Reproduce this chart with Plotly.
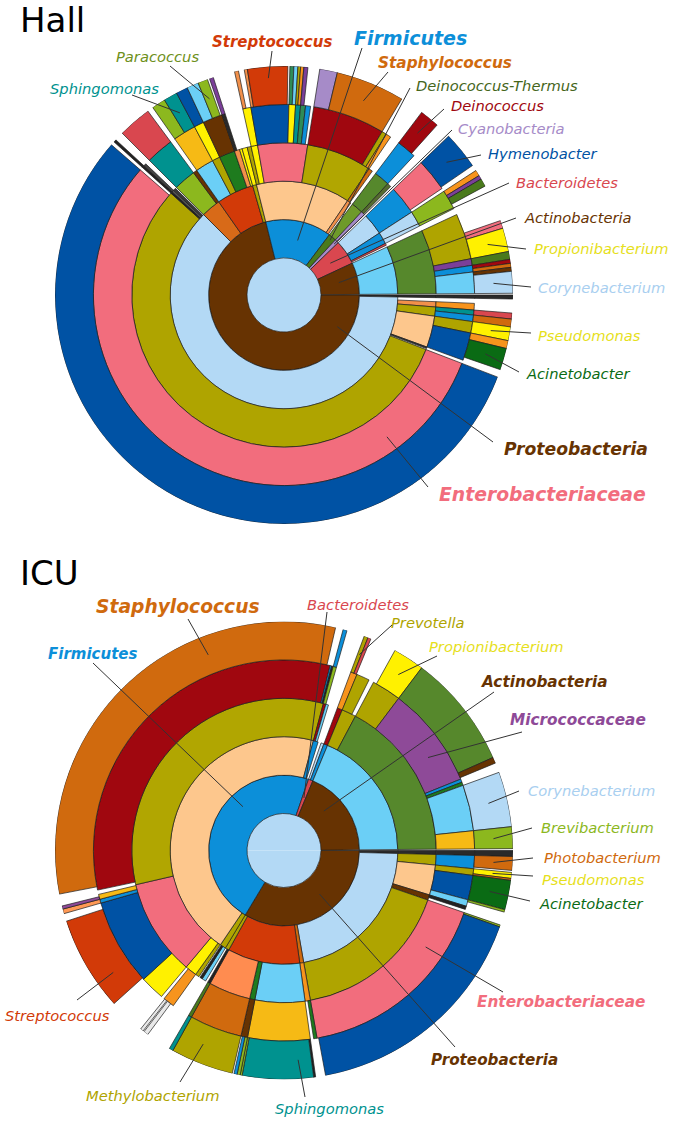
import math
from collections import defaultdict
import plotly.graph_objects as go

W, H = 675, 1121

# ------------------------------------------------------------------
# DATA  (relative abundance, % of classified reads)
# (name, parent, percent)
# ------------------------------------------------------------------
HALL_PHYLA = [
    ("Proteobacteria", "root", 71.11),
    ("Firmicutes", "root", 14.17),
    ("Deinococcus-Thermus", "root", 1.67),
    ("Cyanobacteria", "root", 0.83),
    ("Bacteroidetes", "root", 5.28),
    ("Actinobacteria", "root", 6.81),
]
HALL_PROTEO = [
    ("P.minor", "Proteobacteria", 0.28),
    ("Gammaproteobacteria", "Proteobacteria", 62.22),
    ("Betaproteobacteria", "Proteobacteria", 2.78),
    ("Alphaproteobacteria", "Proteobacteria", 5.28),
    ("Deltaproteobacteria", "Proteobacteria", 0.56),
    ("P.minor order", "P.minor", 0.28),
    ("P.minor family", "P.minor order", 0.28),
    ("P.minor genus", "P.minor family", 0.28),
    ("unclassified Gammaproteobacteria", "Gammaproteobacteria", 0.42),
    ("Xanthomonadales", "Gammaproteobacteria", 0.56),
    ("Alteromonadales", "Gammaproteobacteria", 0.97),
    ("Pseudomonadales", "Gammaproteobacteria", 3.33),
    ("Vibrionales", "Gammaproteobacteria", 0.17),
    ("unclassified Gammaproteobacteria 2", "Gammaproteobacteria", 0.11),
    ("Enterobacteriales", "Gammaproteobacteria", 55.83),
    ("Legionellales", "Gammaproteobacteria", 0.19),
    ("Oceanospirillales", "Gammaproteobacteria", 0.22),
    ("Chromatiales", "Gammaproteobacteria", 0.28),
    ("Xanthomonadaceae", "Xanthomonadales", 0.56),
    ("Shewanellaceae", "Alteromonadales", 0.42),
    ("Shewanella", "Shewanellaceae", 0.42),
    ("Alteromonadaceae", "Alteromonadales", 0.56),
    ("Alteromonas", "Alteromonadaceae", 0.56),
    ("Pseudomonadaceae", "Pseudomonadales", 0.97),
    ("Pseudomonas", "Pseudomonadaceae", 0.97),
    ("Moraxellaceae", "Pseudomonadales", 2.36),
    ("Enhydrobacter", "Moraxellaceae", 0.56),
    ("Acinetobacter", "Moraxellaceae", 1.53),
    ("Enterobacteriaceae", "Enterobacteriales", 55.56),
    ("Enterobacter", "Enterobacteriaceae", 55.56),
    ("Legionellaceae", "Legionellales", 0.19),
    ("Legionella", "Legionellaceae", 0.19),
    ("Halomonadaceae", "Oceanospirillales", 0.22),
    ("Burkholderiales", "Betaproteobacteria", 2.36),
    ("Comamonadaceae", "Burkholderiales", 2.36),
    ("Delftia", "Comamonadaceae", 2.36),
    ("Neisseriales", "Betaproteobacteria", 0.42),
    ("Sphingomonadales", "Alphaproteobacteria", 1.94),
    ("Sphingomonadaceae", "Sphingomonadales", 1.94),
    ("Novosphingobium", "Sphingomonadaceae", 0.97),
    ("Sphingomonas", "Sphingomonadaceae", 0.97),
    ("Rhizobiales", "Alphaproteobacteria", 0.83),
    ("Methylobacteriaceae", "Rhizobiales", 0.83),
    ("Methylobacterium", "Methylobacteriaceae", 0.83),
    ("Rhodobacterales", "Alphaproteobacteria", 1.67),
    ("Rhodobacteraceae", "Rhodobacterales", 1.67),
    ("Rhodobacter", "Rhodobacteraceae", 0.83),
    ("Paracoccus", "Rhodobacteraceae", 0.69),
    ("Caulobacterales", "Alphaproteobacteria", 0.56),
    ("Caulobacteraceae", "Caulobacterales", 0.28),
    ("Brevundimonas", "Caulobacteraceae", 0.28),
    ("Rickettsiales", "Alphaproteobacteria", 0.28),
    ("Myxococcales", "Deltaproteobacteria", 0.56),
]
HALL_OTHER = [
    ("Bacilli", "Firmicutes", 13.33),
    ("Clostridia", "Firmicutes", 0.56),
    ("Bacilli (unclassified)", "Bacilli", 0.42),
    ("Gemellales", "Bacilli", 0.69),
    ("Gemellaceae", "Gemellales", 0.69),
    ("Gemella", "Gemellaceae", 0.28),
    ("Lactobacillales", "Bacilli", 5.28),
    ("Bacillales", "Bacilli", 6.94),
    ("Streptococcaceae", "Lactobacillales", 3.19),
    ("Lactococcus", "Streptococcaceae", 0.22),
    ("Streptococcus", "Streptococcaceae", 2.83),
    ("Enterococcaceae", "Lactobacillales", 0.56),
    ("Enterococcus", "Enterococcaceae", 0.28),
    ("Tetragenococcus", "Enterococcaceae", 0.28),
    ("Leuconostocaceae", "Lactobacillales", 0.42),
    ("Leuconostoc", "Leuconostocaceae", 0.19),
    ("Weissella", "Leuconostocaceae", 0.22),
    ("Carnobacteriaceae", "Lactobacillales", 0.42),
    ("Carnobacterium", "Carnobacteriaceae", 0.28),
    ("Lactobacillaceae", "Lactobacillales", 0.42),
    ("Staphylococcaceae", "Bacillales", 6.11),
    ("Macrococcus", "Staphylococcaceae", 1.25),
    ("Staphylococcus", "Staphylococcaceae", 4.86),
    ("Planococcaceae", "Bacillales", 0.42),
    ("Bacillaceae", "Bacillales", 0.42),
    ("Clostridiales", "Clostridia", 0.42),
    ("Deinococci", "Deinococcus-Thermus", 1.67),
    ("Deinococcales", "Deinococci", 1.67),
    ("Deinococcaceae", "Deinococcales", 1.67),
    ("Deinococcus", "Deinococcaceae", 1.39),
    ("Chloroplast", "Cyanobacteria", 0.56),
    ("Streptophyta", "Chloroplast", 0.42),
    ("Cytophagia", "Bacteroidetes", 3.06),
    ("Cytophagales", "Cytophagia", 3.06),
    ("Cytophagaceae", "Cytophagales", 2.78),
    ("Hymenobacter", "Cytophagaceae", 2.64),
    ("Sphingobacteriia", "Bacteroidetes", 1.67),
    ("Sphingobacteriales", "Sphingobacteriia", 1.67),
    ("Sphingobacteriaceae", "Sphingobacteriales", 1.67),
    ("Pedobacter", "Sphingobacteriaceae", 0.42),
    ("Sphingobacterium", "Sphingobacteriaceae", 0.28),
    ("Mucilaginibacter", "Sphingobacteriaceae", 0.56),
    ("Flavobacteriia", "Bacteroidetes", 0.28),
    ("Actinobacteria (class)", "Actinobacteria", 6.81),
    ("Actinomycetales", "Actinobacteria (class)", 6.81),
    ("Propionibacteriaceae", "Actinomycetales", 3.89),
    ("unclassified Propionibacteriaceae", "Propionibacteriaceae", 1.67),
    ("Friedmanniella", "Propionibacteriaceae", 0.56),
    ("Propionibacterium", "Propionibacteriaceae", 1.67),
    ("Dermabacteraceae", "Actinomycetales", 0.56),
    ("Brachybacterium", "Dermabacteraceae", 0.56),
    ("Micrococcaceae", "Actinomycetales", 0.56),
    ("Kocuria", "Micrococcaceae", 0.28),
    ("Micrococcus", "Micrococcaceae", 0.28),
    ("Corynebacteriaceae", "Actinomycetales", 1.81),
    ("Corynebacteriaceae (other)", "Corynebacteriaceae", 0.28),
    ("Corynebacterium", "Corynebacteriaceae", 1.53),
]

ICU_PHYLA = [
    ("Proteobacteria", "root", 33.61),
    ("Firmicutes", "root", 46.67),
    ("Bacteroidetes", "root", 0.97),
    ("Actinobacteria", "root", 18.61),
]
ICU_PROTEO = [
    ("P.minor", "Proteobacteria", 0.42),
    ("Gammaproteobacteria", "Proteobacteria", 21.81),
    ("Betaproteobacteria", "Proteobacteria", 0.56),
    ("Alphaproteobacteria", "Proteobacteria", 10.28),
    ("Deltaproteobacteria", "Proteobacteria", 0.56),
    ("P.minor order", "P.minor", 0.42),
    ("P.minor family", "P.minor order", 0.42),
    ("P.minor genus", "P.minor family", 0.42),
    ("Vibrionales", "Gammaproteobacteria", 1.11),
    ("Pseudomonadales", "Gammaproteobacteria", 3.19),
    ("Xanthomonadales", "Gammaproteobacteria", 0.56),
    ("Enterobacteriales", "Gammaproteobacteria", 16.94),
    ("Vibrionaceae", "Vibrionales", 1.11),
    ("Photobacterium", "Vibrionaceae", 0.97),
    ("Pseudomonadaceae", "Pseudomonadales", 0.56),
    ("Pseudomonas", "Pseudomonadaceae", 0.42),
    ("Pseudomonadaceae (other)", "Pseudomonadaceae", 0.14),
    ("Moraxellaceae", "Pseudomonadales", 2.08),
    ("Acinetobacter", "Moraxellaceae", 2.08),
    ("Pseudomonadales (other)", "Pseudomonadales", 0.56),
    ("Pseudomonadales (other) g", "Pseudomonadales (other)", 0.17),
    ("Xanthomonadaceae", "Xanthomonadales", 0.28),
    ("Enterobacteriaceae", "Enterobacteriales", 16.94),
    ("Enterobacteriaceae (other)", "Enterobacteriaceae", 0.14),
    ("Enterobacter", "Enterobacteriaceae", 16.67),
    ("Burkholderiales", "Betaproteobacteria", 0.56),
    ("Comamonadaceae", "Burkholderiales", 0.28),
    ("Sphingomonadales", "Alphaproteobacteria", 5.28),
    ("Sphingomonadaceae", "Sphingomonadales", 5.28),
    ("Sphingomonadaceae (other)", "Sphingomonadaceae", 0.14),
    ("Sphingomonas", "Sphingomonadaceae", 5.0),
    ("Novosphingobium", "Sphingomonadaceae", 0.14),
    ("Rhodobacterales", "Alphaproteobacteria", 0.56),
    ("Rhodobacteraceae", "Rhodobacterales", 0.56),
    ("Paracoccus", "Rhodobacteraceae", 0.22),
    ("Rhodobacter", "Rhodobacteraceae", 0.22),
    ("Rhizobiales", "Alphaproteobacteria", 4.44),
    ("Methylobacteriaceae", "Rhizobiales", 4.44),
    ("Methylobacterium", "Methylobacteriaceae", 4.44),
    ("Myxococcales", "Deltaproteobacteria", 0.28),
    ("Myxococcaceae", "Myxococcales", 0.28),
    ("Myxococcaceae g", "Myxococcaceae", 0.28),
]
ICU_OTHER = [
    ("Erysipelotrichia", "Firmicutes", 0.83),
    ("Bacilli", "Firmicutes", 44.72),
    ("Clostridia", "Firmicutes", 0.69),
    ("Erysipelotrichales", "Erysipelotrichia", 0.42),
    ("Erysipelotrichia (other)", "Erysipelotrichia", 0.28),
    ("Bacilli (unclassified)", "Bacilli", 0.42),
    ("Gemellales", "Bacilli", 1.25),
    ("Lactobacillales", "Bacilli", 10.28),
    ("Bacillales", "Bacilli", 32.78),
    ("Gemellaceae", "Gemellales", 0.97),
    ("unclassified Gemellaceae", "Gemellaceae", 0.28),
    ("Gemella", "Gemellaceae", 0.33),
    ("unclassified Gemellaceae 2", "Gemellaceae", 0.08),
    ("Gemellaceae (other)", "Gemellaceae", 0.22),
    ("Aerococcaceae", "Lactobacillales", 2.08),
    ("Streptococcaceae", "Lactobacillales", 7.36),
    ("unclassified Streptococcaceae", "Streptococcaceae", 0.14),
    ("Streptococcus", "Streptococcaceae", 6.67),
    ("Carnobacteriaceae", "Lactobacillales", 0.33),
    ("Carnobacterium", "Carnobacteriaceae", 0.33),
    ("Enterococcaceae", "Lactobacillales", 0.42),
    ("Enterococcus", "Enterococcaceae", 0.22),
    ("unclassified Bacillales", "Bacillales", 0.28),
    ("Staphylococcaceae", "Bacillales", 32.22),
    ("unclassified Staphylococcaceae", "Staphylococcaceae", 0.28),
    ("Staphylococcus", "Staphylococcaceae", 31.67),
    ("Bacillaceae", "Bacillales", 0.14),
    ("Planococcaceae", "Bacillales", 0.14),
    ("Clostridiales", "Clostridia", 0.28),
    ("Clostridiaceae", "Clostridiales", 0.28),
    ("Clostridium", "Clostridiaceae", 0.28),
    ("Clostridia (other)", "Clostridia", 0.28),
    ("Flavobacteriia", "Bacteroidetes", 0.42),
    ("Bacteroidia", "Bacteroidetes", 0.56),
    ("Bacteroidales", "Bacteroidia", 0.56),
    ("Prevotellaceae", "Bacteroidales", 0.56),
    ("Prevotella", "Prevotellaceae", 0.28),
    ("Prevotellaceae (other)", "Prevotellaceae", 0.22),
    ("Actinobacteria (class)", "Actinobacteria", 18.61),
    ("Actinobacteria (unclassified order)", "Actinobacteria (class)", 1.53),
    ("Actinobacteria (unclassified family)", "Actinobacteria (unclassified order)", 1.11),
    ("Actinomycetales", "Actinobacteria (class)", 17.08),
    ("Propionibacteriaceae", "Actinomycetales", 2.5),
    ("unclassified Propionibacteriaceae", "Propionibacteriaceae", 0.28),
    ("Propionibacterium", "Propionibacteriaceae", 2.22),
    ("Micrococcaceae", "Actinomycetales", 8.61),
    ("Kocuria", "Micrococcaceae", 8.06),
    ("Micrococcus", "Micrococcaceae", 0.42),
    ("Dermabacteraceae", "Actinomycetales", 0.28),
    ("Nocardiaceae", "Actinomycetales", 0.28),
    ("Corynebacteriaceae", "Actinomycetales", 3.89),
    ("Corynebacterium", "Corynebacteriaceae", 3.89),
    ("Brevibacteriaceae", "Actinomycetales", 1.53),
    ("Brevibacterium", "Brevibacteriaceae", 1.53),
]

# ------------------------------------------------------------------
# STYLE
# ------------------------------------------------------------------
BROWN = "#673302"; LBLUE = "#B3D9F5"; OLIVE = "#AFA400"; PINK = "#F26D7D"
DBLUE = "#0052A4"; FBLUE = "#0C8FD9"; PEACH = "#FDC78D"; DRED = "#A0070F"
ORANGE = "#D06A0E"; RED = "#D23A08"; CYAN = "#6BCFF6"; GREEN = "#56882C"
YELLOW = "#FFF100"; DGREEN = "#0A6B14"; TEAL = "#00928F"; LIME = "#8CB81E"
GOLD = "#F6BA15"; LORANGE = "#F7941D"; SALMON = "#F2904A"; BRED = "#D9474F"
PURPLE = "#7B3F99"; LAV = "#A68BC8"; DARK = "#2A2A2A"; MGREEN = "#1E7B1E"

HALL_COLORS = {
    "root": LBLUE, "Proteobacteria": BROWN, "Firmicutes": FBLUE,
    "Deinococcus-Thermus": "#4A7A1C", "Cyanobacteria": LAV, "Bacteroidetes": BRED,
    "Actinobacteria": BROWN,
    "P.minor": DARK, "P.minor order": DARK, "P.minor family": DARK, "P.minor genus": DARK,
    "Gammaproteobacteria": LBLUE, "Betaproteobacteria": "#D86A18",
    "Alphaproteobacteria": RED, "Deltaproteobacteria": OLIVE,
    "Xanthomonadales": SALMON, "Alteromonadales": OLIVE, "Pseudomonadales": PEACH,
    "Vibrionales": "#333333", "Enterobacteriales": OLIVE, "Legionellales": "#222222",
    "Oceanospirillales": "#555555", "Chromatiales": "#3A3A3A",
    "Xanthomonadaceae": LORANGE, "Shewanellaceae": TEAL, "Shewanella": BRED,
    "Alteromonadaceae": FBLUE, "Alteromonas": ORANGE, "Pseudomonadaceae": OLIVE,
    "Pseudomonas": YELLOW, "Moraxellaceae": DBLUE, "Enhydrobacter": LORANGE,
    "Acinetobacter": DGREEN, "Enterobacteriaceae": PINK, "Enterobacter": DBLUE,
    "Legionellaceae": "#222222", "Legionella": "#222222", "Halomonadaceae": "#444444",
    "Burkholderiales": LIME, "Comamonadaceae": TEAL, "Delftia": BRED, "Neisseriales": BROWN,
    "Sphingomonadales": CYAN, "Sphingomonadaceae": GOLD, "Novosphingobium": LIME,
    "Sphingomonas": TEAL, "Rhizobiales": OLIVE, "Methylobacteriaceae": YELLOW,
    "Methylobacterium": DBLUE, "Rhodobacterales": MGREEN, "Rhodobacteraceae": BROWN,
    "Rhodobacter": CYAN, "Paracoccus": LIME, "Caulobacterales": SALMON,
    "Caulobacteraceae": DARK, "Brevundimonas": PURPLE, "Rickettsiales": YELLOW,
    "Myxococcales": YELLOW,
    "Bacilli": PEACH, "Clostridia": SALMON, "Bacilli (unclassified)": OLIVE,
    "Gemellales": YELLOW, "Gemellaceae": YELLOW, "Gemella": SALMON,
    "Lactobacillales": PINK, "Bacillales": "#B1A601",
    "Streptococcaceae": DBLUE, "Lactococcus": SALMON, "Streptococcus": RED,
    "Enterococcaceae": YELLOW, "Enterococcus": "#2E8B57", "Tetragenococcus": CYAN,
    "Leuconostocaceae": TEAL, "Leuconostoc": OLIVE, "Weissella": LORANGE,
    "Carnobacteriaceae": "#2E8B57", "Carnobacterium": PURPLE, "Lactobacillaceae": FBLUE,
    "Staphylococcaceae": DRED, "Macrococcus": LAV, "Staphylococcus": ORANGE,
    "Planococcaceae": OLIVE, "Bacillaceae": LORANGE, "Clostridiales": ORANGE,
    "Deinococci": "#6E9A2A", "Deinococcales": GREEN, "Deinococcaceae": FBLUE,
    "Deinococcus": DRED, "Chloroplast": LAV, "Streptophyta": "#556B2F",
    "Cytophagia": LBLUE, "Cytophagales": FBLUE, "Cytophagaceae": PINK, "Hymenobacter": DBLUE,
    "Sphingobacteriia": FBLUE, "Sphingobacteriales": LBLUE, "Sphingobacteriaceae": LIME,
    "Pedobacter": LORANGE, "Sphingobacterium": PURPLE, "Mucilaginibacter": "#4A7A1C",
    "Flavobacteriia": BRED,
    "Actinobacteria (class)": CYAN, "Actinomycetales": GREEN, "Propionibacteriaceae": OLIVE,
    "Friedmanniella": PINK, "Propionibacterium": YELLOW, "Dermabacteraceae": PURPLE,
    "Brachybacterium": "#4A7A1C", "Micrococcaceae": FBLUE, "Kocuria": DRED,
    "Micrococcus": ORANGE, "Corynebacteriaceae": CYAN, "Corynebacteriaceae (other)": BROWN,
    "Corynebacterium": LBLUE,
}

ICU_COLORS = {
    "root": LBLUE, "Proteobacteria": BROWN, "Firmicutes": FBLUE, "Bacteroidetes": BRED,
    "Actinobacteria": BROWN,
    "P.minor": DARK, "P.minor order": DARK, "P.minor family": DARK, "P.minor genus": DARK,
    "Gammaproteobacteria": LBLUE, "Betaproteobacteria": ORANGE, "Alphaproteobacteria": RED,
    "Deltaproteobacteria": OLIVE,
    "Vibrionales": OLIVE, "Vibrionaceae": FBLUE, "Photobacterium": ORANGE,
    "Pseudomonadales": PEACH, "Pseudomonadaceae": OLIVE, "Pseudomonas": YELLOW,
    "Pseudomonadaceae (other)": ORANGE, "Moraxellaceae": DBLUE, "Acinetobacter": DGREEN,
    "Pseudomonadales (other)": CYAN, "Pseudomonadales (other) g": LIME,
    "Xanthomonadales": BROWN, "Xanthomonadaceae": "#222222",
    "Enterobacteriales": OLIVE, "Enterobacteriaceae": PINK,
    "Enterobacteriaceae (other)": LIME, "Enterobacter": DBLUE,
    "Burkholderiales": LORANGE, "Comamonadaceae": MGREEN,
    "Sphingomonadales": CYAN, "Sphingomonadaceae": GOLD, "Sphingomonadaceae (other)": "#222222",
    "Sphingomonas": TEAL, "Novosphingobium": LIME,
    "Rhodobacterales": MGREEN, "Rhodobacteraceae": BROWN, "Paracoccus": LIME, "Rhodobacter": FBLUE,
    "Rhizobiales": "#FF8C50", "Methylobacteriaceae": ORANGE, "Methylobacterium": OLIVE,
    "Myxococcales": "#222222", "Myxococcaceae": "#4A7A1C", "Myxococcaceae g": TEAL,
    "Erysipelotrichia": OLIVE, "Erysipelotrichales": CYAN, "Erysipelotrichia (other)": "#222222",
    "Bacilli": PEACH, "Bacilli (unclassified)": OLIVE, "Gemellales": YELLOW,
    "Gemellaceae": LORANGE, "Gemella": "#E8E8E8", "Gemellaceae (other)": "#E8E8E8",
    "Lactobacillales": PINK, "Bacillales": "#B1A601",
    "Aerococcaceae": YELLOW, "Streptococcaceae": DBLUE, "Streptococcus": RED,
    "Carnobacteriaceae": FBLUE, "Carnobacterium": "#FF9955",
    "Enterococcaceae": GOLD, "Enterococcus": "#8E4A98",
    "Staphylococcaceae": DRED, "Staphylococcus": ORANGE,
    "Bacillaceae": FBLUE, "Planococcaceae": "#222222",
    "Clostridia": FBLUE, "Clostridiales": DRED, "Clostridiaceae": LIME, "Clostridium": FBLUE,
    "Clostridia (other)": CYAN,
    "Flavobacteriia": LBLUE, "Bacteroidia": FBLUE, "Bacteroidales": DRED,
    "Prevotellaceae": LORANGE, "Prevotella": OLIVE, "Prevotellaceae (other)": BRED,
    "Actinobacteria (class)": CYAN, "Actinobacteria (unclassified order)": OLIVE,
    "Actinobacteria (unclassified family)": OLIVE,
    "Actinomycetales": GREEN, "Propionibacteriaceae": OLIVE, "Propionibacterium": YELLOW,
    "Micrococcaceae": "#8E4A98", "Kocuria": GREEN, "Micrococcus": BROWN,
    "Dermabacteraceae": FBLUE, "Nocardiaceae": MGREEN,
    "Corynebacteriaceae": CYAN, "Corynebacterium": LBLUE,
    "Brevibacteriaceae": GOLD, "Brevibacterium": LIME,
}

# geometry (pixels, page coordinates)
PAGE = 0                   # body margin removed below (post_script)
R0 = 37.0                  # root disc radius
RMAX = 229.0               # outer radius
NRING = 5
T = (RMAX - R0) / NRING    # ring thickness
CX = 284.0
HALL_CY = 295.0
ICU_CY = 850.5
FONT = "DejaVu Sans"
SMALL = 14.7


def px2paper(x, y):
    return (x - PAGE) / W, 1 - (y - PAGE) / H


# labels: text, node, fraction along arc, fraction across ring, text x/y,
#         xanchor, leader start x/y, size, bold, text colour (None -> node colour)
HALL_LABELS = [
    ("Firmicutes", "Firmicutes", 0.55, 0.5, 410, 38, "center", 362, 48, 19, True, None),
    ("Streptococcus", "Streptococcus", 0.5, 0.7, 272, 42, "center", 272, 51, 15, True, None),
    ("Staphylococcus", "Staphylococcus", 0.5, 0.5, 445, 63, "center", 388, 72, 15.3, True, None),
    ("Deinococcus-Thermus", "Deinococcus-Thermus", 0.5, 0.9, 414, 86, "left", 410, 88, SMALL, False, "#46661C"),
    ("Deinococcus", "Deinococcus", 0.5, 0.5, 449, 106, "left", 444, 109, SMALL, False, None),
    ("Cyanobacteria", "Cyanobacteria", 0.5, 0.9, 456, 128, "left", 452, 130, SMALL, False, None),
    ("Hymenobacter", "Hymenobacter", 0.5, 0.5, 486, 153, "left", 481, 155, SMALL, False, None),
    ("Bacteroidetes", "Bacteroidetes", 0.5, 0.5, 514, 182, "left", 509, 183, SMALL, False, None),
    ("Actinobacteria", "Actinobacteria", 0.5, 0.5, 522, 218, "left", 516, 218, SMALL, False, None),
    ("Propionibacterium", "Propionibacterium", 0.5, 0.5, 532, 249, "left", 526, 249, SMALL, False, "#E6E01C"),
    ("Corynebacterium", "Corynebacterium", 0.5, 0.5, 536, 287, "left", 531, 287, SMALL, False, "#A9CFF0"),
    ("Pseudomonas", "Pseudomonas", 0.5, 0.5, 536, 335, "left", 531, 333, SMALL, False, "#E6E01C"),
    ("Acinetobacter", "Acinetobacter", 0.5, 0.5, 524, 373, "left", 519, 372, SMALL, False, None),
    ("Proteobacteria", "Proteobacteria", 0.12, 0.65, 502, 449, "left", 493, 442, 17.2, True, None),
    ("Enterobacteriaceae", "Enterobacteriaceae", 0.165, 0.6, 437, 495, "left", 428, 487, 18.8, True, None),
    ("Paracoccus", "Paracoccus", 0.5, 0.5, 157, 57, "center", 170, 66, SMALL, False, "#6E9020"),
    ("Sphingomonas", "Sphingomonas", 0.5, 0.5, 104, 88, "center", 132, 95, SMALL, False, None),
]
ICU_LABELS = [
    ("Staphylococcus", "Staphylococcus", 0.70, 0.5, 178, 606, "center", 188, 619, 18.7, True, None),
    ("Firmicutes", "Firmicutes", 0.63, 0.6, 92, 654, "center", 93, 663, 15, True, None),
    ("Bacteroidetes", "Bacteroidetes", 0.5, 0.5, 358, 604, "center", 327, 612, SMALL, False, None),
    ("Prevotella", "Prevotella", 0.5, 0.5, 428, 622, "center", 392, 625, SMALL, False, None),
    ("Propionibacterium", "Propionibacterium", 0.5, 0.5, 496, 646, "center", 437, 656, SMALL, False, "#E6E01C"),
    ("Actinobacteria", "Actinobacteria", 0.34, 0.5, 544, 682, "center", 494, 692, 15.3, True, None),
    ("Micrococcaceae", "Micrococcaceae", 0.65, 0.5, 578, 720, "center", 522, 732, 15.3, True, None),
    ("Corynebacterium", "Corynebacterium", 0.5, 0.5, 591, 790, "center", 519, 791, SMALL, False, "#A9CFF0"),
    ("Brevibacterium", "Brevibacterium", 0.5, 0.5, 597, 827, "center", 532, 828, SMALL, False, None),
    ("Photobacterium", "Photobacterium", 0.5, 0.5, 602, 857, "center", 533, 858, SMALL, False, None),
    ("Pseudomonas", "Pseudomonas", 0.5, 0.5, 593, 879, "center", 533, 876, SMALL, False, "#E6E01C"),
    ("Acinetobacter", "Acinetobacter", 0.5, 0.5, 591, 903, "center", 530, 901, SMALL, False, None),
    ("Enterobacteriaceae", "Enterobacteriaceae", 0.25, 0.5, 561, 1002, "center", 503, 992, 15.3, True, None),
    ("Proteobacteria", "Proteobacteria", 0.42, 0.5, 495, 1060, "center", 455, 1047, 15.2, True, None),
    ("Sphingomonas", "Sphingomonas", 0.2, 0.5, 329, 1108, "center", 305, 1097, SMALL, False, None),
    ("Methylobacterium", "Methylobacterium", 0.6, 0.5, 152, 1095, "center", 180, 1082, SMALL, False, None),
    ("Streptococcus", "Streptococcus", 0.27, 0.5, 58, 1015, "center", 77, 1000, SMALL, False, None),
]


def layout_tree(taxa):
    children = defaultdict(list)
    for name, parent, val in taxa:
        children[parent].append((name, val))
    arcs = {}

    def walk(parent, start, depth):
        cur = start
        for name, val in children[parent]:
            arcs[name] = (cur, cur + val, depth)
            walk(name, cur, depth + 1)
            cur += val
    walk("root", 0.0, 1)
    return arcs


def chart(taxa, colors, subplot):
    arcs = layout_tree(taxa)
    th, wd, bs, rr, cl = [], [], [], [], []
    for name, (s, e, d) in sorted(arcs.items(), key=lambda kv: kv[1][2]):
        if name not in colors:
            continue
        a0, a1 = s * 3.6, e * 3.6
        th.append((a0 + a1) / 2)
        wd.append(a1 - a0)
        bs.append(R0 + (d - 1) * T)
        rr.append(T)
        cl.append(colors[name])
    center = go.Barpolar(theta=[90, 270], width=[180, 180], base=[0, 0], r=[R0, R0],
                         marker=dict(color=colors["root"], line=dict(width=0)),
                         subplot=subplot, hoverinfo="skip", showlegend=False)
    rings = go.Barpolar(theta=th, width=wd, base=bs, r=rr,
                        marker=dict(color=cl, line=dict(color="#1e1e1e", width=0.7)),
                        subplot=subplot, hoverinfo="skip", showlegend=False)
    return [center, rings], arcs


def polar_layout(cy):
    x0, y0 = px2paper(CX - RMAX, cy + RMAX)
    x1, y1 = px2paper(CX + RMAX, cy - RMAX)
    return dict(
        domain=dict(x=[x0, x1], y=[y0, y1]),
        bgcolor="rgba(0,0,0,0)", barmode="overlay", bargap=0,
        angularaxis=dict(rotation=0, direction="clockwise", visible=False,
                         showgrid=False, showline=False, ticks=""),
        radialaxis=dict(range=[0, RMAX], visible=False, showgrid=False,
                        showline=False, ticks=""),
    )


def label_items(labels, arcs, colors, cy):
    shapes, anns = [], []
    for (txt, node, f, rf, tx, ty, xa, lx, ly, size, bold, tcol) in labels:
        s, e, d = arcs[node]
        ang = math.radians((s + f * (e - s)) * 3.6)
        r = R0 + (d - 1) * T + rf * T
        px, py = CX + r * math.cos(ang), cy + r * math.sin(ang)
        sx, sy = px2paper(lx, ly)
        ex, ey = px2paper(px, py)
        shapes.append(dict(type="line", xref="paper", yref="paper",
                           x0=sx, y0=sy, x1=ex, y1=ey,
                           line=dict(color="#333333", width=1)))
        t = f"<i>{txt}</i>"
        if bold:
            t = f"<b>{t}</b>"
        ax_, ay_ = px2paper(tx, ty)
        anns.append(dict(text=t, x=ax_, y=ay_, xref="paper", yref="paper",
                         xanchor=xa, yanchor="middle", showarrow=False,
                         font=dict(family=FONT, size=size, color=tcol or colors[node])))
    return shapes, anns


fig = go.Figure()
hall_traces, hall_arcs = chart(HALL_PHYLA + HALL_PROTEO + HALL_OTHER, HALL_COLORS, "polar")
icu_traces, icu_arcs = chart(ICU_PHYLA + ICU_PROTEO + ICU_OTHER, ICU_COLORS, "polar2")
for tr in hall_traces + icu_traces:
    fig.add_trace(tr)

s1, a1 = label_items(HALL_LABELS, hall_arcs, HALL_COLORS, HALL_CY)
s2, a2 = label_items(ICU_LABELS, icu_arcs, ICU_COLORS, ICU_CY)

hx, hy = px2paper(18, 20)
ix, iy = px2paper(18, 573)
titles = [
    dict(text="Hall", x=hx, y=hy, xref="paper", yref="paper", xanchor="left",
         yanchor="middle", showarrow=False, font=dict(family=FONT, size=34, color="#000")),
    dict(text="ICU", x=ix, y=iy, xref="paper", yref="paper", xanchor="left",
         yanchor="middle", showarrow=False, font=dict(family=FONT, size=34, color="#000")),
]

fig.update_layout(
    width=W, height=H, margin=dict(l=0, r=0, t=0, b=0),
    paper_bgcolor="white", plot_bgcolor="white", showlegend=False,
    polar=polar_layout(HALL_CY), polar2=polar_layout(ICU_CY),
    shapes=s1 + s2, annotations=a1 + a2 + titles,
)
fig.write_html("out.html", config={"displayModeBar": False},
               post_script="document.body.style.margin='0px';")
